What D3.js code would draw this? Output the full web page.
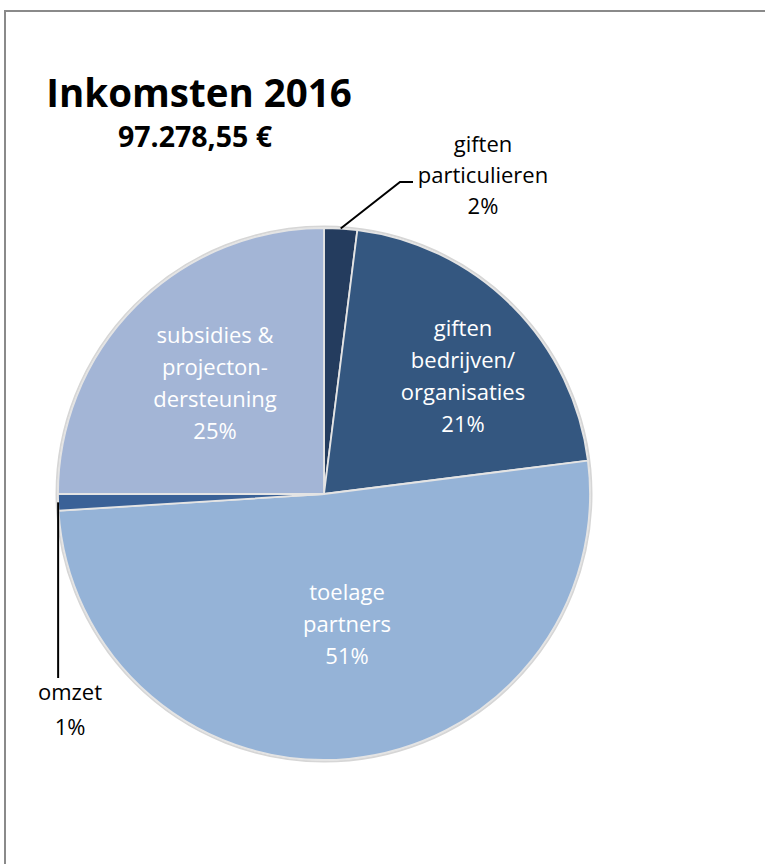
<!DOCTYPE html>
<html lang="nl">
<head>
<meta charset="UTF-8"/>
<title>Inkomsten 2016</title>
<script src="https://d3js.org/d3.v7.min.js"></script>
<style>
  body { margin: 0; background: #fff; }
  svg { display: block; font-family: "Open Sans", sans-serif; }
  .inner-label { fill: #fff; font-size: 22px; text-anchor: middle; }
  .outer-label { fill: #000; font-size: 22px; text-anchor: middle; }
</style>
</head>
<body>
<script>
// data, in pie order starting at 12 o'clock, clockwise
const categories = ["giften particulieren", "giften bedrijven/organisaties", "toelage partners", "omzet", "subsidies & projectondersteuning"];
const shares = [2, 21, 51, 1, 25];
const labelLines = [
  ["giften", "particulieren", "2%"],
  ["giften", "bedrijven/", "organisaties", "21%"],
  ["toelage", "partners", "51%"],
  ["omzet", "1%"],
  ["subsidies &", "projecton-", "dersteuning", "25%"]
];
const colors = ["#243c5e", "#345780", "#95b3d7", "#3a6197", "#a3b5d6"];

const W = 765, H = 864;
const cx = 324, cy = 494, r = 266;

const svg = d3.select("body").append("svg")
    .attr("width", W)
    .attr("height", H);

// chart frame
svg.append("rect")
    .attr("x", 5).attr("y", 11)
    .attr("width", W + 10).attr("height", H + 10)
    .attr("fill", "none")
    .attr("stroke", "#8a8a8a")
    .attr("stroke-width", 2);

// titles
svg.append("text")
    .attr("x", 199).attr("y", 107)
    .attr("text-anchor", "middle")
    .attr("font-size", 38.5).attr("font-weight", "bold")
    .text("Inkomsten 2016");

svg.append("text")
    .attr("x", 195).attr("y", 147)
    .attr("text-anchor", "middle")
    .attr("font-size", 28.5).attr("font-weight", "bold")
    .text("97.278,55 €");

const pie = d3.pie().sort(null).value(d => d)(shares);
const arc = d3.arc().innerRadius(0).outerRadius(r);

const g = svg.append("g").attr("transform", `translate(${cx},${cy})`);

// soft outer ring like excel's shadow
g.append("circle")
    .attr("r", r + 1.5)
    .attr("fill", "none")
    .attr("stroke", "#d6d6d6")
    .attr("stroke-width", 2);

g.selectAll("path.slice")
    .data(pie)
  .join("path")
    .attr("class", "slice")
    .attr("d", arc)
    .attr("fill", (d, i) => colors[i])
    .attr("stroke", "#e4e4e4")
    .attr("stroke-width", 1.8);

// first-line baseline of each label (relative to pie centre)
const labelPos = [
  {x: 159, y: -342, outside: true},
  {x: 139, y: -158, outside: false},
  {x: 23, y: 106, outside: false},
  {x: -254, y: 206, outside: true},
  {x: -109, y: -151, outside: false}
];
const lineH = [31, 32, 32, 35, 32];

labelLines.forEach((lines, i) => {
  const p = labelPos[i];
  const t = g.append("text")
      .attr("class", p.outside ? "outer-label" : "inner-label")
      .attr("x", p.x).attr("y", p.y);
  lines.forEach((s, j) => {
    t.append("tspan")
        .attr("x", p.x)
        .attr("dy", j === 0 ? 0 : lineH[i])
        .text(s);
  });
});

// leader lines
const a0 = pie[0].startAngle + (pie[0].endAngle - pie[0].startAngle) / 2;
const p0 = [Math.sin(a0) * r, -Math.cos(a0) * r];
g.append("polyline")
    .attr("points", [p0, [76, -312], [89, -312]].map(p => p.join(",")).join(" "))
    .attr("fill", "none").attr("stroke", "#000").attr("stroke-width", 2);

const a3 = pie[3].startAngle + (pie[3].endAngle - pie[3].startAngle) / 2;
const p3 = [Math.sin(a3) * r, -Math.cos(a3) * r];
g.append("polyline")
    .attr("points", [p3, [p3[0], 184]].map(p => p.join(",")).join(" "))
    .attr("fill", "none").attr("stroke", "#000").attr("stroke-width", 2);
</script>
</body>
</html>
